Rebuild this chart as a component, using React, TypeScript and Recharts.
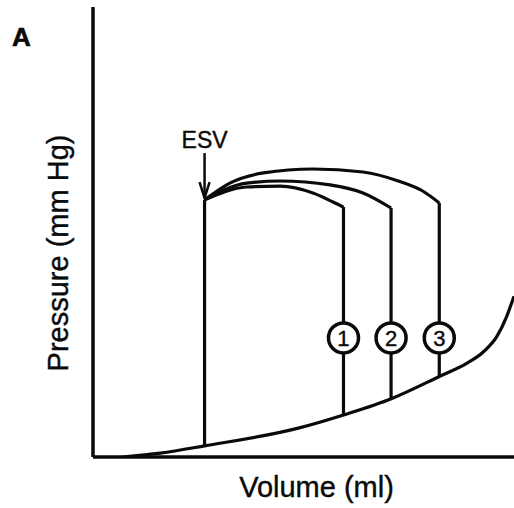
import { ComposedChart, Line, XAxis, YAxis, ReferenceDot } from 'recharts'

// end-diastolic pressure-volume curve
const edpvrVolume = [14, 32, 53, 98, 119, 142, 165, 177.5, 185.4, 191.8, 196.5, 200]
const edpvrPressure = [0, 1.3, 3.7, 9.7, 14, 19.5, 27, 31.2, 35, 40.1, 46.8, 53.6]

// ESV (isovolumic relaxation line)
const esvVolume = [53, 53]
const esvPressure = [3.7, 85.7]

// ejection arcs for the three loops
const loop1Volume = [53, 73, 89, 104.5, 114, 119]
const loop1Pressure = [85.7, 90, 90.3, 88, 85, 83.3]
const loop2Volume = [53, 73, 89, 112.6, 128.3, 141.6]
const loop2Pressure = [85.7, 91.3, 92, 90.7, 88, 83]
const loop3Volume = [53, 65, 81, 104.5, 128.3, 145, 157, 164.5]
const loop3Pressure = [85.7, 91.3, 94.7, 96, 95, 92, 88.5, 84.7]

// isovolumic contraction lines (end-diastolic volume of each loop)
const edvVolume = [119, 141.6, 164.5]
const edvTopPressure = [83.3, 83, 84.7]
const edvBottomPressure = [14, 19.5, 27]
const loopLabels = ['1', '2', '3']
const labelPressure = 39.7

const arrowVolume = [53, 53]
const arrowPressure = [101.3, 86.3]
const esvLabelPressure = 103

const pts = (vs: number[], ps: number[]) => vs.map((v, i) => ({ v, p: ps[i] }))

const FONT = '"Liberation Sans", Arial, Helvetica, sans-serif'
const INK = '#0a0a0a'

const ArrowHead = (props: any) => {
  const { cx, cy, index } = props
  if (index !== 1) return <g key={`a${index}`} />
  return (
    <path
      key={`a${index}`}
      d={`M${cx - 5},${cy - 16} L${cx},${cy} L${cx + 5},${cy - 16}`}
      fill="none"
      stroke={INK}
      strokeWidth={2.5}
    />
  )
}

const NumberCircle = (label: string) => (props: any) => (
  <g>
    <circle cx={props.cx} cy={props.cy} r={15} fill="#fff" stroke={INK} strokeWidth={3.5} />
    <text
      x={props.cx}
      y={props.cy + 8}
      textAnchor="middle"
      fontSize={22}
      fontFamily={FONT}
      fill={INK}
      stroke={INK}
      strokeWidth={0.4}
    >
      {label}
    </text>
  </g>
)

const EsvText = (props: any) => (
  <text
    x={props.cx}
    y={props.cy}
    textAnchor="middle"
    fontSize={23}
    fontFamily={FONT}
    fill={INK}
    stroke={INK}
    strokeWidth={0.4}
  >
    ESV
  </text>
)

const XLabel = (props: any) => {
  const { x, y, width } = props.viewBox
  return (
    <text
      x={x + width / 2 + 13}
      y={y + 40}
      textAnchor="middle"
      fontSize={29}
      fontFamily={FONT}
      fill={INK}
      stroke={INK}
      strokeWidth={0.4}
    >
      Volume (ml)
    </text>
  )
}

const YLabel = (props: any) => {
  const { x, y, width, height } = props.viewBox
  const tx = x + width - 25
  const ty = y + height / 2 + 21
  return (
    <text
      x={tx}
      y={ty}
      transform={`rotate(-90 ${tx} ${ty})`}
      textAnchor="middle"
      fontSize={29}
      fontFamily={FONT}
      fill={INK}
      stroke={INK}
      strokeWidth={0.4}
    >
      Pressure (mm Hg)
    </text>
  )
}

export default function App() {
  const line = { stroke: INK, strokeWidth: 3.2, dot: false, isAnimationActive: false, dataKey: 'p' }
  return (
    <div style={{ position: 'absolute', left: 0, top: 0, width: 514, height: 508, background: '#fff' }}>
      <div
        style={{
          position: 'absolute',
          left: 12,
          top: 24,
          fontFamily: FONT,
          fontWeight: 'bold',
          fontSize: 26,
          lineHeight: 1,
          color: INK,
          WebkitTextStroke: '0.6px #0a0a0a',
        }}
      >
        A
      </div>
      <ComposedChart width={514} height={508} margin={{ top: 7, right: 0, left: 33, bottom: 0 }}>
        <XAxis
          type="number"
          dataKey="v"
          domain={[0, 200]}
          allowDataOverflow
          tick={false}
          tickLine={false}
          axisLine={{ stroke: INK, strokeWidth: 3.5 }}
          height={51}
          label={<XLabel />}
        />
        <YAxis
          type="number"
          domain={[0, 150]}
          allowDataOverflow
          tick={false}
          tickLine={false}
          axisLine={{ stroke: INK, strokeWidth: 3.5 }}
          width={60}
          label={<YLabel />}
        />
        <Line {...line} type="monotone" data={pts(edpvrVolume, edpvrPressure)} />
        <Line {...line} type="linear" data={pts(esvVolume, esvPressure)} />
        <Line {...line} type="monotone" data={pts(loop1Volume, loop1Pressure)} />
        <Line {...line} type="monotone" data={pts(loop2Volume, loop2Pressure)} />
        <Line {...line} type="monotone" data={pts(loop3Volume, loop3Pressure)} />
        {edvVolume.map((v, i) => (
          <Line
            key={`edv${i}`}
            {...line}
            type="linear"
            data={pts([v, v], [edvTopPressure[i], edvBottomPressure[i]])}
          />
        ))}
        <Line
          {...line}
          strokeWidth={2.5}
          type="linear"
          data={pts(arrowVolume, arrowPressure)}
          dot={<ArrowHead />}
        />
        {edvVolume.map((v, i) => (
          <ReferenceDot key={`c${i}`} x={v} y={labelPressure} r={15} shape={NumberCircle(loopLabels[i])} />
        ))}
        <ReferenceDot x={arrowVolume[0]} y={esvLabelPressure} r={1} shape={<EsvText />} />
      </ComposedChart>
    </div>
  )
}
